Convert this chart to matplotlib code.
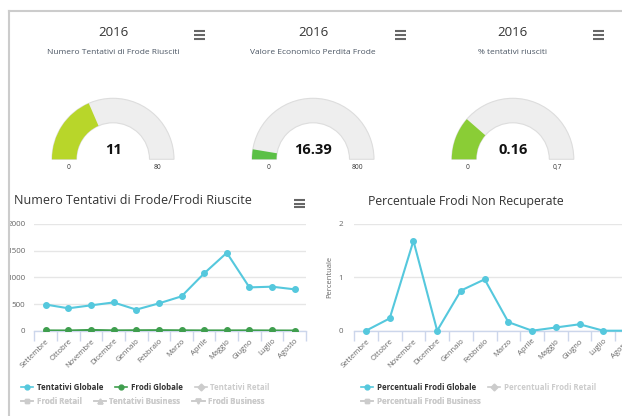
import matplotlib
matplotlib.use("Agg")
import matplotlib.pyplot as plt
from matplotlib.lines import Line2D
from matplotlib.patches import Wedge, Rectangle

plt.rcParams["font.family"] = ["Open Sans", "DejaVu Sans"]

W, H = 622, 416

# gauges
gauge_titles = ["2016", "2016", "2016"]
gauge_subtitles = ["Numero Tentativi di Frode Riusciti", "Valore Economico Perdita Frode", "% tentativi riusciti"]
gauge_labels = ["11", "16.39", "0.16"]
gauge_fill = [29.6, 42, 0.16]
gauge_max = [80, 800, 0.7]
gauge_max_labels = ["80", "800", "0,7"]
gauge_colors = ["#B8D62A", "#5BC046", "#8ACD36"]

# line charts
months = ["Settembre", "Ottobre", "Novembre", "Dicembre", "Gennaio", "Febbraio",
          "Marzo", "Aprile", "Maggio", "Giugno", "Luglio", "Agosto"]
tentativi_globale = [490, 420, 475, 530, 395, 512, 644, 1075, 1460, 812, 825, 775]
frodi_globale = [5, 4, 14, 6, 8, 10, 7, 5, 5, 6, 4, 3]
perc_frodi_globale = [0, 0.23, 1.68, 0, 0.75, 0.96, 0.16, 0, 0.06, 0.12, 0, 0]

left_legend = [["Tentativi Globale", "Frodi Globale", "Tentativi Retail"],
               ["Frodi Retail", "Tentativi Business", "Frodi Business"]]
right_legend = [["Percentuali Frodi Globale", "Percentuali Frodi Retail"],
                ["Percentuali Frodi Business"]]

CYAN = "#55C8DD"
GREEN = "#3F9E4E"
GREY_ITEM = "#CCCCCC"
LABEL = "#666666"


def fig_rect(x0, y0, x1, y1):
    return [x0 / W, 1 - y1 / H, (x1 - x0) / W, (y1 - y0) / H]


def style_line_axes(ax, n, ymax, yticks, pad_y):
    ax.set_xlim(-0.5, n - 0.5)
    ax.set_ylim(0, ymax)
    for s in ax.spines.values():
        s.set_visible(False)
    ax.spines["bottom"].set_visible(True)
    ax.spines["bottom"].set_color("#CCD6EB")
    ax.spines["bottom"].set_linewidth(1)
    ax.set_yticks(yticks)
    ax.grid(axis="y", color="#E6E6E6", linewidth=1)
    ax.set_axisbelow(True)
    ax.set_xticks(range(n))
    ax.set_xticklabels(months, rotation=45, ha="right", va="top",
                       rotation_mode="anchor", fontsize=5.5, color=LABEL)
    ax.set_xticks([i - 0.5 for i in range(n + 1)], minor=True)
    ax.tick_params(axis="x", which="major", length=0, pad=5)
    ax.tick_params(axis="x", which="minor", length=7, color="#CCD6EB", width=1)
    ax.tick_params(axis="y", length=0, pad=pad_y, labelsize=5.8, labelcolor=LABEL)
    ax.patch.set_alpha(0)


def add_legend_rows(ax, rows, markers, colors, anchors):
    legs = []
    k = 0
    for row, (ax_x, ax_y) in zip(rows, anchors):
        handles = []
        for _ in row:
            handles.append(Line2D([], [], color=colors[k], marker=markers[k],
                                  markersize=3.5, linewidth=1.2))
            k += 1
        leg = ax.legend(handles, row, loc="center left", ncol=len(row),
                        bbox_to_anchor=(ax_x / W, 1 - ax_y / H),
                        bbox_transform=ax.figure.transFigure, frameon=False,
                        handlelength=1.55, handletextpad=0.45,
                        columnspacing=1.5, borderpad=0, borderaxespad=0,
                        prop={"weight": "bold", "size": 5.7})
        legs.append(leg)
        ax.add_artist(leg)
    k = 0
    for leg in legs:
        for t in leg.get_texts():
            t.set_color("#333333" if colors[k] != GREY_ITEM else GREY_ITEM)
            k += 1


fig = plt.figure(figsize=(W / 100, H / 100), dpi=100)
fig.patch.set_facecolor("white")

# left line chart
ax1 = fig.add_axes(fig_rect(34.4, 224, 306, 330.7))
style_line_axes(ax1, len(months), 2000, [0, 500, 1000, 1500, 2000], 6.5)
ax1.set_yticklabels(["0", "500", "1000", "1500", "2000"])
ax1.plot(range(len(months)), tentativi_globale, color=CYAN, linewidth=1.5,
         marker="o", markersize=4, zorder=3)
ax1.plot(range(len(months)), frodi_globale, color=GREEN, linewidth=1.5,
         marker="o", markersize=4, zorder=3)
add_legend_rows(ax1, left_legend,
                ["o", "o", "D", "s", "^", "v"],
                [CYAN, GREEN, GREY_ITEM, GREY_ITEM, GREY_ITEM, GREY_ITEM],
                [(21, 387), (21, 401.7)])

# right line chart
ax2 = fig.add_axes(fig_rect(354.1, 223.7, 638.9, 330.7))
style_line_axes(ax2, len(months), 2, [0, 1, 2], 8)
ax2.plot(range(len(months)), perc_frodi_globale, color=CYAN, linewidth=1.5,
         marker="o", markersize=4, zorder=3, clip_on=False)
ax2.set_ylabel("Percentuale", fontsize=5.5, color=LABEL, labelpad=4)
add_legend_rows(ax2, right_legend, ["o", "D", "s"], [CYAN, GREY_ITEM, GREY_ITEM],
                [(361, 387), (361, 401.7)])

# overlay: gauges, titles, icons, border
ov = fig.add_axes([0, 0, 1, 1])
ov.set_xlim(0, W)
ov.set_ylim(H, 0)
ov.axis("off")
ov.set_zorder(10)

centers = [113, 313, 512.8]
base_y = 159.3
r_out, r_w = 61, 24.5
for i, cx in enumerate(centers):
    ov.add_patch(Wedge((cx, base_y), r_out, 180, 360, width=r_w,
                       facecolor="#EEEEEE", edgecolor="#DDDDDD", linewidth=0.8))
    frac = gauge_fill[i] / gauge_max[i]
    ov.add_patch(Wedge((cx, base_y), r_out, 180, 180 + 180 * frac, width=r_w,
                       facecolor=gauge_colors[i], edgecolor="none"))
    ov.text(cx, 150, gauge_labels[i], ha="center", va="center",
            fontsize=10.5, fontweight="bold", color="#111111")
    ov.text(cx - r_out + r_w / 2 + 4, 167.5, "0", ha="center", va="center",
            fontsize=4.8, color="#333333")
    ov.text(cx + r_out - r_w / 2 - 4, 167.5, gauge_max_labels[i], ha="center",
            va="center", fontsize=4.8, color="#333333")
    ov.text(cx, 33, gauge_titles[i], ha="center", va="center", fontsize=9.5,
            color="#333333")
    ov.text(cx, 52, gauge_subtitles[i], ha="center", va="center", fontsize=6.0,
            color="#4A5563")

# chart titles
ov.text(14, 201, "Numero Tentativi di Frode/Frodi Riuscite", ha="left", va="center",
        fontsize=9.0, color="#333333")
ov.text(465.5, 201, "Percentuale Frodi Non Recuperate", ha="center", va="center",
        fontsize=8.8, color="#333333")

# menu icons
for x0, y0, gap in [(193.5, 31, 4), (394.5, 31, 4), (593, 31, 4), (293.5, 200, 3.5)]:
    for j in range(3):
        ov.plot([x0, x0 + 11], [y0 + j * gap] * 2, color="#666666",
                linewidth=1.5, solid_capstyle="butt")

# panel border (hides the clipped part of the y labels)
ov.add_patch(Rectangle((0, 0), 8.5, H, facecolor="white", edgecolor="none"))
ov.plot([9.3, 9.3], [10.7, H], color="#CCCCCC", linewidth=1.5)
ov.plot([9.3, W], [10.7, 10.7], color="#CCCCCC", linewidth=1.5)

fig.savefig("out.png", dpi=100)
